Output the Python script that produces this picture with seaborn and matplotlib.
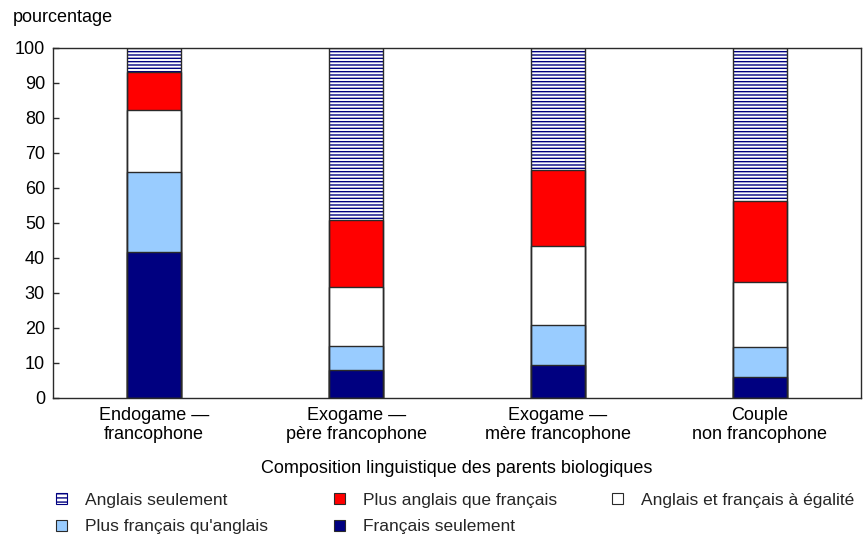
import matplotlib
matplotlib.use("Agg")
import matplotlib.pyplot as plt
import seaborn as sns
import pandas as pd
import numpy as np
from matplotlib import font_manager
from matplotlib.patches import Patch

categories = ["Endogame —\nfrancophone", "Exogame —\npère francophone",
              "Exogame —\nmère francophone", "Couple\nnon francophone"]
series_names = ["Anglais seulement", "Plus anglais que français",
                "Anglais et français à égalité", "Plus français qu'anglais",
                "Français seulement"]
fr_only = [41.6, 7.9, 9.4, 6.0]
plus_fr = [23.0, 6.9, 11.4, 8.4]
egal = [17.7, 16.9, 22.5, 18.8]
plus_en = [10.7, 19.2, 21.7, 23.1]
en_only = [7.0, 49.1, 35.0, 43.7]
yticks = list(range(0, 101, 10))

NAVY = "#000080"
LBLUE = "#99CCFF"
RED = "#FF0000"
WHITE = "#FFFFFF"
EDGE = "#2a2a2a"

names = {f.name for f in font_manager.fontManager.ttflist}
fam = "Liberation Sans Narrow" if "Liberation Sans Narrow" in names else "Liberation Sans"

sns.set_theme(style="white")
plt.rcParams["font.family"] = [fam, "DejaVu Sans"]
plt.rcParams["hatch.linewidth"] = 1.0
plt.rcParams["hatch.color"] = NAVY
FS = 13.0
FS_LEG = 12.5

fig = plt.figure(figsize=(8.68, 5.40), dpi=100)
ax = fig.add_axes([53.3 / 868, 1 - 397.7 / 540, (860.7 - 53.3) / 868, (397.7 - 48) / 540])

# cumulative tops, drawn from top layer to bottom
layers = [
    (en_only, WHITE, "hatch"),
    (plus_en, RED, None),
    (egal, WHITE, None),
    (plus_fr, LBLUE, None),
    (fr_only, NAVY, None),
]
vals = np.array([l[0] for l in layers])
cum_from_bottom = np.cumsum(vals[::-1], axis=0)[::-1]

bw = 54 / 202
for i, (v, col, kind) in enumerate(layers):
    df = pd.DataFrame({"cat": categories, "top": cum_from_bottom[i]})
    if kind == "hatch":
        sns.barplot(data=df, x="cat", y="top", color=WHITE, saturation=1,
                    width=bw, ax=ax, edgecolor=NAVY, linewidth=0)
        for p in ax.containers[-1]:
            p.set_hatch("-----")
    else:
        sns.barplot(data=df, x="cat", y="top", color=col, saturation=1,
                    width=bw, ax=ax, edgecolor=EDGE, linewidth=1.0)

# outline for full bars
df_tot = pd.DataFrame({"cat": categories, "top": cum_from_bottom[0]})
sns.barplot(data=df_tot, x="cat", y="top", color=EDGE, fill=False,
            width=bw, ax=ax, linewidth=1.0, saturation=1)

ax.set_xlim(-0.5, 3.5)
ax.set_ylim(0, 100)
ax.set_yticks(yticks)
ax.set_yticklabels([str(t) for t in yticks], fontsize=FS, color="black")
ax.set_xticks(range(len(categories)))
ax.set_xticklabels(categories, fontsize=FS, color="black", linespacing=1.15)
ax.tick_params(axis="y", direction="in", length=4, width=1, color=EDGE, left=True, pad=6)
ax.tick_params(axis="x", length=0, pad=7)
ax.set_ylabel("")
ax.set_xlabel("Composition linguistique des parents biologiques", fontsize=FS,
              color="black", labelpad=12)
for s in ax.spines.values():
    s.set_visible(True)
    s.set_color(EDGE)
    s.set_linewidth(1.0)
ax.grid(False)

fig.text(13 / 868, 1 - 17 / 540, "pourcentage", fontsize=FS, color="black",
         ha="left", va="center")

handles = {
    "Anglais seulement": Patch(facecolor=WHITE, edgecolor=NAVY, hatch="----", linewidth=0.8),
    "Plus anglais que français": Patch(facecolor=RED, edgecolor=EDGE, linewidth=0.8),
    "Anglais et français à égalité": Patch(facecolor=WHITE, edgecolor=EDGE, linewidth=0.8),
    "Plus français qu'anglais": Patch(facecolor=LBLUE, edgecolor=EDGE, linewidth=0.8),
    "Français seulement": Patch(facecolor=NAVY, edgecolor=EDGE, linewidth=0.8),
}
positions = {
    "Anglais seulement": (56, 500),
    "Plus français qu'anglais": (56, 527),
    "Plus anglais que français": (334, 500),
    "Français seulement": (334, 527),
    "Anglais et français à égalité": (612, 500),
}
for name in series_names:
    x, y = positions[name]
    fig.legend(handles=[handles[name]], labels=[name], loc="center left",
               bbox_to_anchor=(x / 868, 1 - y / 540), frameon=False,
               fontsize=FS_LEG, borderpad=0, borderaxespad=0, handlelength=0.65,
               handleheight=0.65, handletextpad=1.0)

fig.savefig("out.png", dpi=100)
